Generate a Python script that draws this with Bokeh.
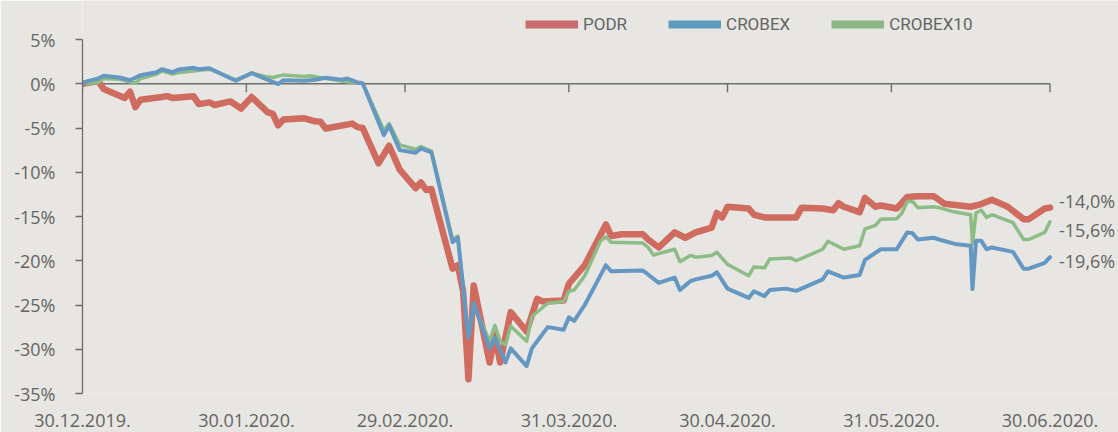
import pandas as pd
from bokeh.plotting import figure
from bokeh.models import (Range1d, FixedTicker, DatetimeTickFormatter, PrintfTickFormatter,
                          Legend, LegendItem, Label)
from bokeh.embed import file_html
from bokeh.resources import INLINE

# ---------------- data (percent change since 30.12.2019) ----------------
podr_dates = ["2019-12-30", "2020-01-02", "2020-01-03", "2020-01-07", "2020-01-08", "2020-01-09",
              "2020-01-10", "2020-01-14", "2020-01-15", "2020-01-16", "2020-01-20", "2020-01-21",
              "2020-01-23", "2020-01-24", "2020-01-27", "2020-01-29", "2020-01-31", "2020-02-03",
              "2020-02-04", "2020-02-05", "2020-02-06", "2020-02-10", "2020-02-12", "2020-02-13",
              "2020-02-14", "2020-02-19", "2020-02-20", "2020-02-21", "2020-02-24", "2020-02-26",
              "2020-02-28", "2020-03-02", "2020-03-03", "2020-03-04", "2020-03-05", "2020-03-09",
              "2020-03-10", "2020-03-11", "2020-03-12", "2020-03-13", "2020-03-16", "2020-03-17",
              "2020-03-18", "2020-03-20", "2020-03-23", "2020-03-25", "2020-03-26", "2020-03-30",
              "2020-03-31", "2020-04-03", "2020-04-07", "2020-04-08", "2020-04-10", "2020-04-14",
              "2020-04-15", "2020-04-17", "2020-04-20", "2020-04-22", "2020-04-24", "2020-04-27",
              "2020-04-28", "2020-04-29", "2020-04-30", "2020-05-04", "2020-05-05", "2020-05-07",
              "2020-05-13", "2020-05-14", "2020-05-18", "2020-05-20", "2020-05-21", "2020-05-22",
              "2020-05-25", "2020-05-26", "2020-05-28", "2020-05-29", "2020-06-01", "2020-06-03",
              "2020-06-05", "2020-06-08", "2020-06-10", "2020-06-15", "2020-06-17", "2020-06-19",
              "2020-06-22", "2020-06-25", "2020-06-26", "2020-06-29", "2020-06-30"]
podr_vals = [0.0, 0.3, -0.6, -1.6, -0.9, -2.65,
             -1.8, -1.5, -1.4, -1.6, -1.4, -2.3,
             -2.1, -2.4, -2.0, -2.8, -1.5, -3.2,
             -3.4, -4.7, -4.05, -3.9, -4.25, -4.3,
             -5.05, -4.5, -4.9, -5.0, -9.0, -7.0,
             -9.7, -11.8, -11.15, -12.0, -11.9, -20.9,
             -20.5, -23.5, -33.4, -22.8, -31.5, -28.4,
             -31.5, -25.8, -28.0, -24.3, -24.6, -24.5,
             -22.6, -20.5, -15.9, -17.2, -17.0, -17.0,
             -17.6, -18.5, -16.8, -17.4, -16.8, -16.25,
             -14.6, -15.1, -13.9, -14.1, -14.8, -15.1,
             -15.1, -14.0, -14.1, -14.3, -13.5, -13.9,
             -14.5, -12.9, -13.9, -13.75, -14.1, -12.8,
             -12.7, -12.7, -13.55, -13.9, -13.6, -13.1,
             -13.9, -15.3, -15.3, -14.1, -14.0]

crobex_dates = ["2019-12-30", "2019-12-31", "2020-01-02", "2020-01-03", "2020-01-06", "2020-01-08",
                "2020-01-10", "2020-01-13", "2020-01-14", "2020-01-16", "2020-01-17", "2020-01-20",
                "2020-01-21", "2020-01-23", "2020-01-28", "2020-01-31", "2020-02-05", "2020-02-06",
                "2020-02-10", "2020-02-12", "2020-02-14", "2020-02-17", "2020-02-18", "2020-02-20",
                "2020-02-21", "2020-02-25", "2020-02-26", "2020-02-28", "2020-03-02", "2020-03-03",
                "2020-03-05", "2020-03-09", "2020-03-10", "2020-03-12", "2020-03-13", "2020-03-16",
                "2020-03-17", "2020-03-19", "2020-03-20", "2020-03-23", "2020-03-24", "2020-03-27",
                "2020-03-30", "2020-03-31", "2020-04-01", "2020-04-03", "2020-04-07", "2020-04-08",
                "2020-04-14", "2020-04-17", "2020-04-20", "2020-04-21", "2020-04-23", "2020-04-24",
                "2020-04-27", "2020-04-28", "2020-04-30", "2020-05-04", "2020-05-05", "2020-05-07",
                "2020-05-08", "2020-05-11", "2020-05-13", "2020-05-18", "2020-05-19", "2020-05-22",
                "2020-05-25", "2020-05-26", "2020-05-29", "2020-06-01", "2020-06-03", "2020-06-04",
                "2020-06-05", "2020-06-08", "2020-06-09", "2020-06-12", "2020-06-15", "2020-06-15T08:00",
                "2020-06-16", "2020-06-17", "2020-06-18", "2020-06-19", "2020-06-23", "2020-06-25",
                "2020-06-26", "2020-06-29", "2020-06-30"]
crobex_vals = [0.0, 0.3, 0.6, 0.9, 0.7, 0.4,
               0.97, 1.3, 1.64, 1.3, 1.57, 1.8,
               1.64, 1.75, 0.34, 1.2, -0.04, 0.4,
               0.34, 0.45, 0.67, 0.45, 0.6, 0.15,
               0.07, -5.8, -4.7, -7.5, -7.8, -7.3,
               -7.75, -17.9, -17.4, -28.7, -24.8, -29.9,
               -28.7, -31.5, -29.9, -31.9, -29.9, -27.5,
               -27.8, -26.4, -26.8, -25.0, -20.5, -21.2,
               -21.1, -22.5, -21.9, -23.3, -22.3, -22.1,
               -21.7, -21.3, -23.15, -24.2, -23.45, -24.0,
               -23.3, -23.15, -23.4, -22.1, -21.2, -21.9,
               -21.6, -19.9, -18.7, -18.7, -16.8, -16.9,
               -17.6, -17.4, -17.6, -18.1, -18.3, -23.2,
               -17.75, -17.75, -18.7, -18.5, -19.0, -20.9,
               -20.9, -20.25, -19.6]

crobex10_dates = ["2019-12-30", "2020-01-02", "2020-01-03", "2020-01-06", "2020-01-09", "2020-01-10",
                  "2020-01-13", "2020-01-14", "2020-01-16", "2020-01-17", "2020-01-20", "2020-01-21",
                  "2020-01-23", "2020-01-28", "2020-01-31", "2020-02-03", "2020-02-04", "2020-02-06",
                  "2020-02-10", "2020-02-11", "2020-02-14", "2020-02-18", "2020-02-21", "2020-02-25",
                  "2020-02-26", "2020-02-28", "2020-03-02", "2020-03-03", "2020-03-05", "2020-03-09",
                  "2020-03-10", "2020-03-12", "2020-03-13", "2020-03-16", "2020-03-17", "2020-03-18",
                  "2020-03-19", "2020-03-20", "2020-03-23", "2020-03-24", "2020-03-27", "2020-03-30",
                  "2020-03-31", "2020-04-01", "2020-04-03", "2020-04-06", "2020-04-07", "2020-04-08",
                  "2020-04-14", "2020-04-15", "2020-04-16", "2020-04-20", "2020-04-21", "2020-04-23",
                  "2020-04-24", "2020-04-27", "2020-04-28", "2020-04-30", "2020-05-04", "2020-05-05",
                  "2020-05-07", "2020-05-08", "2020-05-12", "2020-05-13", "2020-05-18", "2020-05-19",
                  "2020-05-22", "2020-05-25", "2020-05-26", "2020-05-28", "2020-05-29", "2020-06-01",
                  "2020-06-02", "2020-06-03", "2020-06-04", "2020-06-05", "2020-06-08", "2020-06-09",
                  "2020-06-12", "2020-06-15", "2020-06-15T08:00", "2020-06-16", "2020-06-17", "2020-06-18",
                  "2020-06-19", "2020-06-23", "2020-06-25", "2020-06-26", "2020-06-29", "2020-06-30"]
crobex10_vals = [0.0, 0.15, 0.6, 0.5, 0.07, 0.6,
                 1.08, 1.45, 1.08, 1.25, 1.45, 1.53,
                 1.64, 0.45, 1.2, 0.78, 0.7, 1.0,
                 0.82, 0.9, 0.6, 0.22, 0.07, -5.26,
                 -4.5, -6.9, -7.4, -7.1, -7.6, -17.6,
                 -17.2, -28.5, -25.0, -29.1, -27.3, -29.1,
                 -29.5, -27.4, -29.1, -26.3, -24.8, -24.6,
                 -23.45, -23.3, -21.7, -17.75, -17.3, -17.9,
                 -18.0, -18.5, -19.35, -18.7, -20.1, -19.4,
                 -19.6, -19.4, -19.05, -20.4, -21.7, -20.7,
                 -20.8, -19.8, -19.7, -20.0, -18.7, -17.8,
                 -18.7, -18.3, -16.4, -16.0, -15.3, -15.25,
                 -14.6, -13.3, -13.3, -14.0, -13.9, -14.0,
                 -14.5, -14.8, -18.1, -14.6, -14.3, -15.1,
                 -14.8, -15.7, -17.6, -17.6, -16.8, -15.6]

series_names = ["PODR", "CROBEX", "CROBEX10"]
x_tick_dates = ["2019-12-30", "2020-01-30", "2020-02-29", "2020-03-31",
                "2020-04-30", "2020-05-31", "2020-06-30"]
y_ticks = [-35, -30, -25, -20, -15, -10, -5, 0, 5]

# ---------------- styling / layout ----------------
BG = "#e7e6e2"
AX = "#6e6e6e"
TXT = "#646464"
RED = "#d06b60"
BLUE = "#6597c3"
GREEN = "#8dbc86"
LEG_COLORS = ["#c96b6c", "#5b9cbc", "#8ab785"]

FIG_W, FIG_H = 1118, 432
FRAME_L = 82          # pixel of first date
DATA_R = 1049.5       # pixel of last date
Y_TOP_PX, Y_BOT_PX = 39, 393   # pixels of top and bottom y ticks

tick_ts = [pd.Timestamp(d) for d in x_tick_dates]
span_days = (tick_ts[-1] - tick_ts[0]).total_seconds() / 86400
px_per_day = (DATA_R - FRAME_L) / span_days
x_end = tick_ts[-1] + pd.Timedelta(days=(FIG_W - DATA_R) / px_per_day)
px_per_pct = (Y_BOT_PX - Y_TOP_PX) / (y_ticks[-1] - y_ticks[0])
y_top = y_ticks[-1] + Y_TOP_PX / px_per_pct

p = figure(width=FIG_W, height=FIG_H, x_axis_type="datetime",
           x_range=Range1d(tick_ts[0], x_end),
           y_range=Range1d(y_ticks[0], y_top),
           output_backend="svg", toolbar_location=None,
           min_border_left=FRAME_L, min_border_right=0, min_border_top=0,
           min_border_bottom=FIG_H - Y_BOT_PX,
           background_fill_color=BG, border_fill_color=BG, outline_line_color=None)
p.grid.visible = False

# y axis
p.yaxis.ticker = FixedTicker(ticks=y_ticks)
p.yaxis.bounds = (y_ticks[0], y_ticks[-1])
p.yaxis.formatter = PrintfTickFormatter(format="%d%%")
p.yaxis.axis_line_color = AX
p.yaxis.axis_line_width = 1.3
p.yaxis.major_tick_line_color = AX
p.yaxis.major_tick_line_width = 1.3
p.yaxis.major_tick_out = 7
p.yaxis.major_tick_in = 0
p.yaxis.minor_tick_line_color = None
p.yaxis.major_label_standoff = 20
p.yaxis.major_label_text_font = "Open Sans"
p.yaxis.major_label_text_font_size = "18px"
p.yaxis.major_label_text_color = TXT

# x axis (labels only, at the bottom)
p.xaxis.ticker = FixedTicker(ticks=[t.value / 1e6 for t in tick_ts])
fmt = "%d.%m.%Y."
p.xaxis.formatter = DatetimeTickFormatter(days=fmt, months=fmt, years=fmt, hours=fmt,
                                          hourmin=fmt, minutes=fmt, minsec=fmt, seconds=fmt)
p.xaxis.axis_line_color = None
p.xaxis.major_tick_line_color = None
p.xaxis.minor_tick_line_color = None
p.xaxis.major_tick_out = 0
p.xaxis.major_tick_in = 0
p.xaxis.major_label_standoff = 20
p.xaxis.major_label_text_font = "Open Sans"
p.xaxis.major_label_text_font_size = "18px"
p.xaxis.major_label_text_color = TXT

# zero line (from first to last date) with date ticks hanging below it
p.segment(x0=[tick_ts[0]], x1=[tick_ts[-1]], y0=0, y1=0, line_color=AX, line_width=1.4)
p.segment(x0=tick_ts, x1=tick_ts, y0=0, y1=-0.95, line_color=AX, line_width=1.4)

# series
podr_x = pd.to_datetime(podr_dates, format="ISO8601")
crobex_x = pd.to_datetime(crobex_dates, format="ISO8601")
crobex10_x = pd.to_datetime(crobex10_dates, format="ISO8601")
p.line(podr_x, podr_vals, line_color=RED, line_width=6.5, line_join="round", line_cap="round")
p.line(crobex10_x, crobex10_vals, line_color=GREEN, line_width=3.5, line_join="round", line_cap="round")
p.line(crobex_x, crobex_vals, line_color=BLUE, line_width=4, line_join="round", line_cap="round")

# legend (uniform thick swatches via stand-in renderers that draw nothing in the plot)
items = []
for name, c in zip(series_names, LEG_COLORS):
    dummy = p.line(x=[tick_ts[0], tick_ts[0]], y=[float("nan"), float("nan")],
                   line_color=c, line_width=8)
    items.append(LegendItem(label=name, renderers=[dummy]))
legend = Legend(items=items, orientation="horizontal", location=(443, 359),
                glyph_width=53, glyph_height=20, label_height=20, label_width=10,
                label_standoff=5, spacing=41, padding=0, margin=0,
                background_fill_alpha=0, border_line_color=None,
                label_text_font="Roboto", label_text_font_size="17px", label_text_color=TXT)
p.add_layout(legend)

# end-value labels
ends = [(podr_x[-1], podr_vals[-1], 7), (crobex10_x[-1], crobex10_vals[-1], -8),
        (crobex_x[-1], crobex_vals[-1], -4)]
for x, v, dy in ends:
    p.add_layout(Label(x=x, y=v, x_offset=9, y_offset=dy,
                       text=("%.1f%%" % v).replace(".", ","),
                       text_font="Open Sans", text_font_size="18px", text_color=TXT,
                       text_align="left", text_baseline="middle"))

html = file_html(p, INLINE, title="PODR")
html = html.replace("<body", '<body style="background:%s;overflow:hidden;"' % BG, 1)
open("out.html", "w").write(html)
